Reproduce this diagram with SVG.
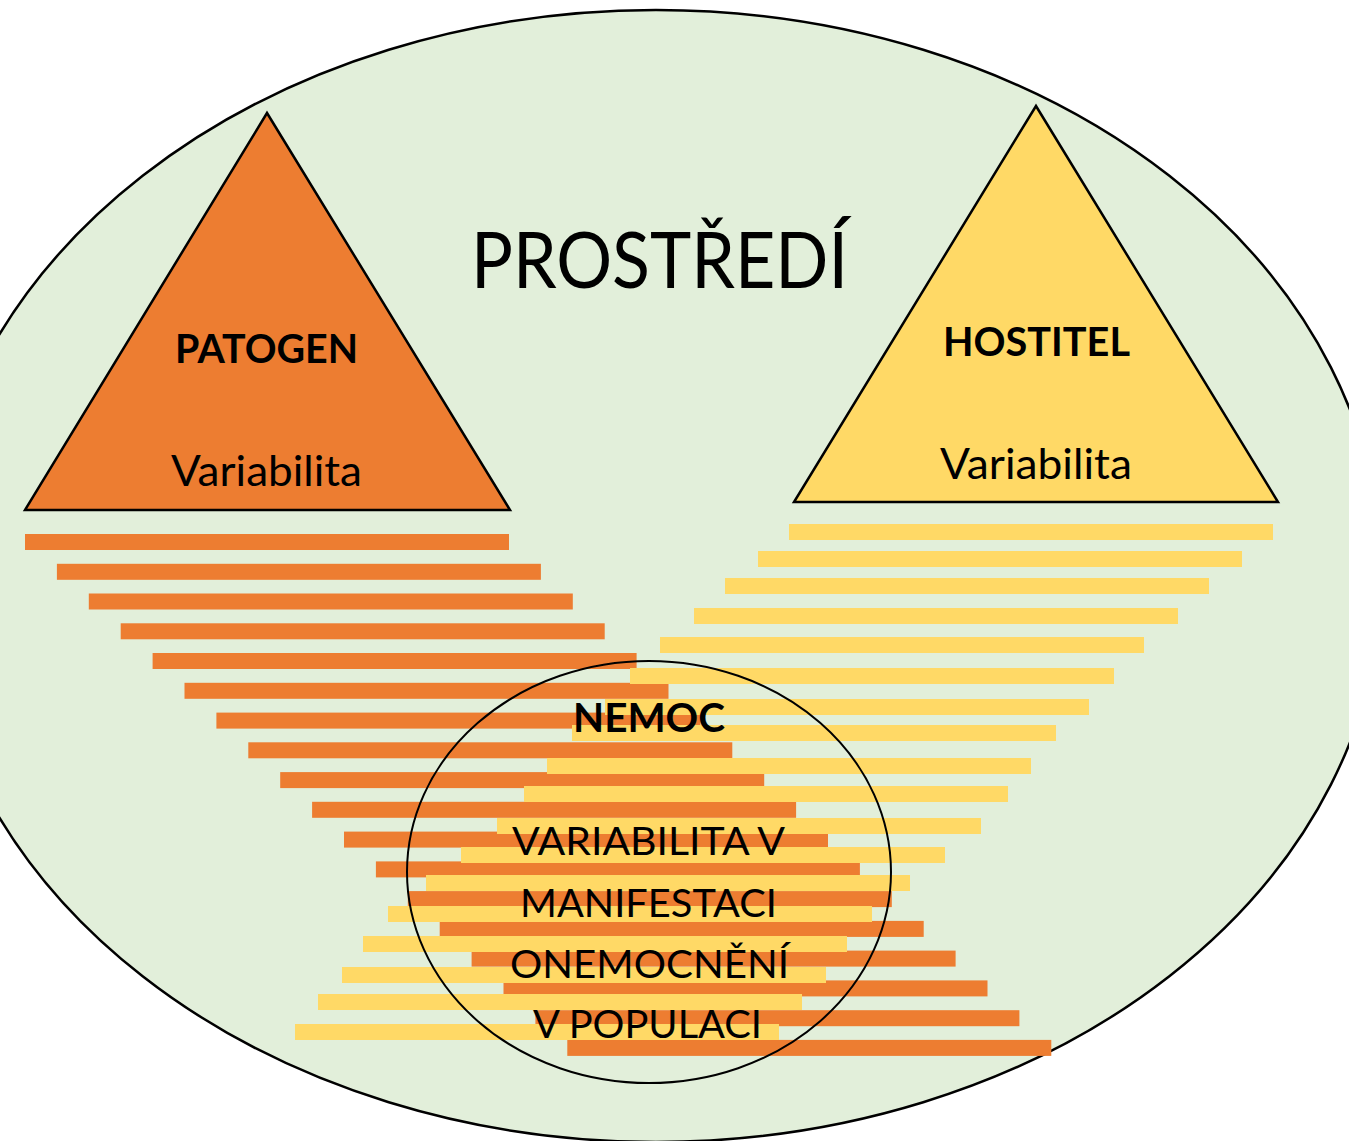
<svg xmlns="http://www.w3.org/2000/svg" width="1349" height="1141" viewBox="0 0 1349 1141">
<style>
.o{fill:#ED7D31}
.y{fill:#FFD966}
.t{font-family:Lato,"Open Sans","Liberation Sans",sans-serif;fill:#000}
.b{font-weight:bold}
.tri{stroke:#000;stroke-width:2.5;stroke-linejoin:miter}
</style>
<rect width="1349" height="1141" fill="#fff"/>
<g id="environment">
<ellipse cx="656" cy="576" rx="726" ry="566" fill="#E2EFDA" stroke="#000" stroke-width="2.5"/>
<text class="t" x="471" y="288" font-size="77" textLength="377" lengthAdjust="spacingAndGlyphs">PROSTŘEDÍ</text>
</g>
<g id="pathogen">
<polygon class="tri" points="267,113 25,510 510,510" fill="#ED7D31"/>
<text class="t b" x="175" y="363" font-size="40" textLength="183" lengthAdjust="spacingAndGlyphs">PATOGEN</text>
<text class="t" x="171" y="486" font-size="42" textLength="191" lengthAdjust="spacingAndGlyphs">Variabilita</text>
</g>
<g id="host">
<polygon class="tri" points="1036,106 794,502 1278,502" fill="#FFD966"/>
<text class="t b" x="943" y="356" font-size="40" textLength="187" lengthAdjust="spacingAndGlyphs">HOSTITEL</text>
<text class="t" x="940" y="479" font-size="42" textLength="192" lengthAdjust="spacingAndGlyphs">Variabilita</text>
</g>
<g id="pathogen-bars">
<rect class="o" x="25" y="534" width="484" height="16"/>
<rect class="o" x="56.9" y="563.8" width="484" height="16"/>
<rect class="o" x="88.8" y="593.5" width="484" height="16"/>
<rect class="o" x="120.7" y="623.3" width="484" height="16"/>
<rect class="o" x="152.6" y="653" width="484" height="16"/>
<rect class="o" x="184.5" y="682.8" width="484" height="16"/>
<rect class="o" x="216.4" y="712.6" width="484" height="16"/>
<rect class="o" x="248.3" y="742.3" width="484" height="16"/>
<rect class="o" x="280.2" y="772.1" width="484" height="16"/>
<rect class="o" x="312.1" y="801.8" width="484" height="16"/>
<rect class="o" x="344" y="831.6" width="484" height="16"/>
<rect class="o" x="375.9" y="861.4" width="484" height="16"/>
<rect class="o" x="407.8" y="891.1" width="484" height="16"/>
<rect class="o" x="439.7" y="920.9" width="484" height="16"/>
<rect class="o" x="471.6" y="950.6" width="484" height="16"/>
<rect class="o" x="503.5" y="980.4" width="484" height="16"/>
<rect class="o" x="535.4" y="1010.2" width="484" height="16"/>
<rect class="o" x="567.3" y="1039.9" width="484" height="16"/>
</g>
<g id="host-bars">
<rect class="y" x="789" y="524" width="484" height="16"/>
<rect class="y" x="758" y="551" width="484" height="16"/>
<rect class="y" x="725" y="578" width="484" height="16"/>
<rect class="y" x="694" y="608" width="484" height="16"/>
<rect class="y" x="660" y="637" width="484" height="16"/>
<rect class="y" x="630" y="668" width="484" height="16"/>
<rect class="y" x="605" y="699" width="484" height="16"/>
<rect class="y" x="572" y="725" width="484" height="16"/>
<rect class="y" x="547" y="758" width="484" height="16"/>
<rect class="y" x="524" y="786" width="484" height="16"/>
<rect class="y" x="497" y="818" width="484" height="16"/>
<rect class="y" x="461" y="847" width="484" height="16"/>
<rect class="y" x="426" y="875" width="484" height="16"/>
<rect class="y" x="388" y="906" width="484" height="16"/>
<rect class="y" x="363" y="936" width="484" height="16"/>
<rect class="y" x="342" y="967" width="484" height="16"/>
<rect class="y" x="318" y="994" width="484" height="16"/>
<rect class="y" x="295" y="1024" width="484" height="16"/>
</g>
<g id="connectors"></g>
<g id="disease">
<ellipse cx="649" cy="872" rx="242" ry="211" fill="none" stroke="#000" stroke-width="2"/>
<text class="t b" x="573" y="732" font-size="40" textLength="152" lengthAdjust="spacingAndGlyphs">NEMOC</text>
<text class="t" x="512" y="855" font-size="39" textLength="273" lengthAdjust="spacingAndGlyphs">VARIABILITA V</text>
<text class="t" x="520" y="917" font-size="39" textLength="257" lengthAdjust="spacingAndGlyphs">MANIFESTACI</text>
<text class="t" x="510" y="978" font-size="39" textLength="279" lengthAdjust="spacingAndGlyphs">ONEMOCNĚNÍ</text>
<text class="t" x="533" y="1038" font-size="39" textLength="229" lengthAdjust="spacingAndGlyphs">V POPULACI</text>
</g>
</svg>
